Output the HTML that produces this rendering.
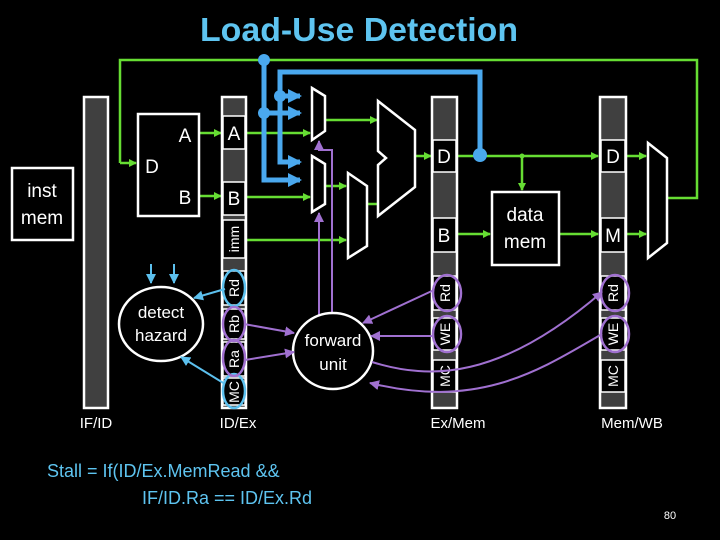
<!DOCTYPE html>
<html><head><style>html,body{margin:0;padding:0;background:#000}svg{display:block}</style></head>
<body>
<svg width="720" height="540" viewBox="0 0 720 540" xmlns="http://www.w3.org/2000/svg" font-family="Liberation Sans, sans-serif">
<defs>
<marker id="g" markerWidth="8" markerHeight="8" refX="7" refY="4" orient="auto" markerUnits="userSpaceOnUse"><path d="M0,0 L8,4 L0,8z" fill="#66dd33"/></marker>
<marker id="b" markerWidth="14" markerHeight="14" refX="12" refY="7" orient="auto" markerUnits="userSpaceOnUse"><path d="M0,0 L14,7 L0,14z" fill="#4aa8ee"/></marker>
<marker id="lb" markerWidth="10" markerHeight="10" refX="9" refY="5" orient="auto" markerUnits="userSpaceOnUse"><path d="M0,0 L10,5 L0,10z" fill="#5cc0ee"/></marker>
<marker id="p" markerWidth="10" markerHeight="10" refX="9" refY="5" orient="auto" markerUnits="userSpaceOnUse"><path d="M0,0 L10,5 L0,10z" fill="#a070d0"/></marker>
</defs>
<rect width="720" height="540" fill="#000"/>
<text x="359" y="41" font-size="33" font-weight="bold" fill="#5ec4f0" text-anchor="middle" textLength="318" lengthAdjust="spacingAndGlyphs">Load-Use Detection</text>

<g stroke="#66dd33" stroke-width="2.5" fill="none">
<path d="M120,163 V60 H697 V198 H667"/>
<path d="M120,163 H136" marker-end="url(#g)"/>
<path d="M199,133 H221" marker-end="url(#g)"/>
<path d="M199,196 H221" marker-end="url(#g)"/>
<path d="M246,133 H310" marker-end="url(#g)"/>
<path d="M246,197 H310" marker-end="url(#g)"/>
<path d="M246,240 H346" marker-end="url(#g)"/>
<path d="M325,120 H377" marker-end="url(#g)"/>
<path d="M325,186 H346" marker-end="url(#g)"/>
<path d="M367,204 H378"/>
<path d="M415,156 H431" marker-end="url(#g)"/>
<path d="M457,156 H598" marker-end="url(#g)"/>
<path d="M522,156 V190" marker-end="url(#g)"/>
<path d="M457,234 H490" marker-end="url(#g)"/>
<path d="M559,234 H598" marker-end="url(#g)"/>
<path d="M626,156 H646" marker-end="url(#g)"/>
<path d="M626,234 H646" marker-end="url(#g)"/>
</g>
<circle cx="522" cy="156" r="2.5" fill="#66dd33"/>

<g stroke="#4aa8ee" stroke-width="5" fill="none">
<path d="M264,60 V180 H300" marker-end="url(#b)"/>
<path d="M264,113 H300" marker-end="url(#b)"/>
<path d="M480,155 V72 H280 V162 H300" marker-end="url(#b)"/>
<path d="M280,96 H300" marker-end="url(#b)"/>
</g>
<circle cx="264" cy="60" r="6" fill="#4aa8ee"/>
<circle cx="264" cy="113" r="6" fill="#4aa8ee"/>
<circle cx="280" cy="96" r="6" fill="#4aa8ee"/>
<circle cx="480" cy="155" r="7" fill="#4aa8ee"/>

<g stroke="#fff" stroke-width="2.5" fill="#000">
<rect x="12" y="168" width="61" height="72"/>
<rect x="138" y="114" width="61" height="102"/>
<rect x="492" y="192" width="67" height="73"/>
</g>
<g fill="#fff" font-size="19">
<text x="42" y="197" text-anchor="middle">inst</text>
<text x="42" y="224" text-anchor="middle">mem</text>
<text x="185" y="142" text-anchor="middle">A</text>
<text x="152" y="173" text-anchor="middle">D</text>
<text x="185" y="204" text-anchor="middle">B</text>
<text x="525" y="221" text-anchor="middle">data</text>
<text x="525" y="248" text-anchor="middle">mem</text>
</g>

<g stroke="#fff" stroke-width="2.5" fill="#000">
<path d="M312,88 L325,96 L325,131 L312,140Z"/>
<path d="M312,156 L325,164 L325,204 L312,212Z"/>
<path d="M348,173 L367,186 L367,246 L348,258Z"/>
<path d="M378,101 L415,130 L415,187 L378,216 L378,165 L386,158 L378,151Z"/>
<path d="M648,143 L667,158 L667,243 L648,258Z"/>
</g>

<g stroke="#fff" stroke-width="2.5" fill="#404040">
<rect x="84" y="97" width="24" height="311"/>
<rect x="222" y="97" width="24" height="311"/>
<rect x="432" y="97" width="25" height="311"/>
<rect x="600" y="97" width="26" height="311"/>
</g>
<g fill="#000" stroke="#fff" stroke-width="1.5">
<rect x="223" y="116" width="22" height="33"/>
<rect x="223" y="182" width="22" height="33"/>
<rect x="223" y="220" width="22" height="38"/>
<rect x="223" y="271" width="22" height="34"/>
<rect x="223" y="309" width="22" height="30"/>
<rect x="223" y="342" width="22" height="34"/>
<rect x="223" y="378" width="22" height="27"/>
<rect x="433" y="140" width="23" height="32"/>
<rect x="433" y="218" width="23" height="34"/>
<rect x="433" y="276" width="23" height="34"/>
<rect x="433" y="318" width="23" height="32"/>
<rect x="433" y="360" width="23" height="32"/>
<rect x="601" y="140" width="24" height="32"/>
<rect x="601" y="218" width="24" height="34"/>
<rect x="601" y="276" width="24" height="34"/>
<rect x="601" y="318" width="24" height="32"/>
<rect x="601" y="360" width="24" height="32"/>
</g>
<g fill="#fff" font-size="19" text-anchor="middle">
<text x="234" y="140">A</text>
<text x="234" y="205">B</text>
<text x="444" y="163">D</text>
<text x="444" y="242">B</text>
<text x="613" y="163">D</text>
<text x="613" y="242">M</text>
</g>
<g fill="#fff" font-size="14" text-anchor="middle">
<text transform="translate(239,239) rotate(-90)">imm</text>
<text transform="translate(239,288) rotate(-90)">Rd</text>
<text transform="translate(239,324) rotate(-90)">Rb</text>
<text transform="translate(239,359) rotate(-90)">Ra</text>
<text transform="translate(239,392) rotate(-90)">MC</text>
<text transform="translate(450,293) rotate(-90)">Rd</text>
<text transform="translate(450,334) rotate(-90)">WE</text>
<text transform="translate(450,376) rotate(-90)">MC</text>
<text transform="translate(618,293) rotate(-90)">Rd</text>
<text transform="translate(618,334) rotate(-90)">WE</text>
<text transform="translate(618,376) rotate(-90)">MC</text>
</g>
<g fill="none" stroke-width="2.5">
<ellipse cx="234" cy="288" rx="11" ry="18" stroke="#5cc0ee"/>
<ellipse cx="234" cy="391" rx="11" ry="17" stroke="#5cc0ee"/>
<ellipse cx="234" cy="324" rx="11" ry="17" stroke="#a070d0"/>
<ellipse cx="234" cy="358" rx="11" ry="18" stroke="#a070d0"/>
<ellipse cx="447" cy="293" rx="14" ry="18" stroke="#a070d0"/>
<ellipse cx="447" cy="334" rx="14" ry="18" stroke="#a070d0"/>
<ellipse cx="615" cy="293" rx="14" ry="18" stroke="#a070d0"/>
<ellipse cx="615" cy="334" rx="14" ry="18" stroke="#a070d0"/>
</g>

<g stroke="#a070d0" stroke-width="2" fill="none">
<path d="M319,320 V213" marker-end="url(#p)"/>
<path d="M332,320 V150 H319 V141" marker-end="url(#p)"/>
</g>

<g stroke="#fff" stroke-width="2.5" fill="#000">
<ellipse cx="161" cy="324" rx="42" ry="37"/>
<ellipse cx="333" cy="351" rx="40" ry="38"/>
</g>
<g fill="#fff" font-size="17" text-anchor="middle">
<text x="161" y="318">detect</text>
<text x="161" y="341">hazard</text>
<text x="333" y="346">forward</text>
<text x="333" y="370">unit</text>
</g>

<g stroke="#5cc0ee" stroke-width="2" fill="none">
<path d="M151,264 V283" marker-end="url(#lb)"/>
<path d="M174,264 V283" marker-end="url(#lb)"/>
<path d="M225,289 L194,298" marker-end="url(#lb)"/>
<path d="M225,384 L181,357" marker-end="url(#lb)"/>
</g>

<g stroke="#a070d0" stroke-width="2" fill="none">
<path d="M244,324 L294,333" marker-end="url(#p)"/>
<path d="M245,360 L294,352" marker-end="url(#p)"/>
<path d="M434,290 L363,323" marker-end="url(#p)"/>
<path d="M434,336 L371,336" marker-end="url(#p)"/>
<path d="M602,334 C540,370 480,410 370,383" marker-end="url(#p)"/>
<path d="M372,362 C430,380 500,380 602,292" marker-end="url(#p)"/>
</g>

<g fill="#fff" font-size="15" text-anchor="middle">
<text x="96" y="428">IF/ID</text>
<text x="238" y="428">ID/Ex</text>
<text x="458" y="428">Ex/Mem</text>
<text x="632" y="428">Mem/WB</text>
</g>
<g fill="#5ec4f0" font-size="18">
<text x="47" y="477">Stall =  If(ID/Ex.MemRead  &amp;&amp;</text>
<text x="142" y="504">IF/ID.Ra == ID/Ex.Rd</text>
</g>
<text x="670" y="519" fill="#fff" font-size="11" text-anchor="middle">80</text>
</svg>
</body></html>
